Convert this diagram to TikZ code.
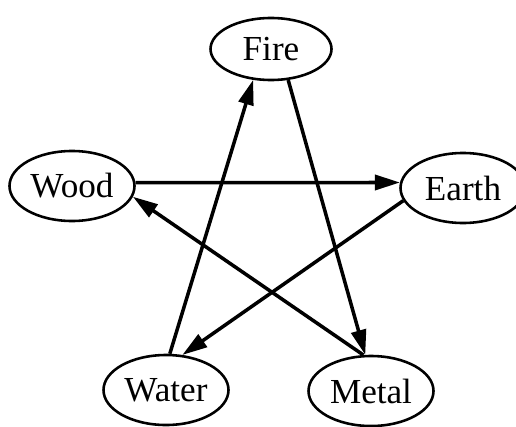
\documentclass[tikz,border=0pt]{standalone}
\usepackage{fontspec}
\setmainfont{Liberation Serif}
\usepackage{tikz}
\usetikzlibrary{arrows.meta}
\usetikzlibrary{shapes.geometric}
\tikzset{
	every path/.style = {line width=3pt},
	every node/.style = {draw, ellipse, line width=2.2pt, inner sep=0pt,
		minimum width=3.75cm, minimum height=2.1cm,
		font=\fontsize{30}{34}\selectfont}
}

\begin{document}
\begin{tikzpicture}[x=0.03cm,y=-0.03cm,>={Triangle[length=0.75cm,width=0.45cm]}]
	\useasboundingbox (0,0) rectangle (516,426);
	\node (fire) [minimum width=3.63cm,minimum height=1.86cm] at (271,49) {Fire};
	\node (wood) at (72,186) {Wood};
	\node (earth) at (463,188) {Earth};
	\node (water) at (166,390) {Water};
	\node (metal) at (371,391) {Metal};
	\draw [->] (wood.3) -- (earth.175);
	\draw [->] (earth.192) -- (water.65);
	\draw [->] (water.84) -- (fire.240);
	\draw [->] (fire.299) -- (metal.99);
	\draw [->] (metal.102) -- (wood.350);
\end{tikzpicture}
\end{document}
